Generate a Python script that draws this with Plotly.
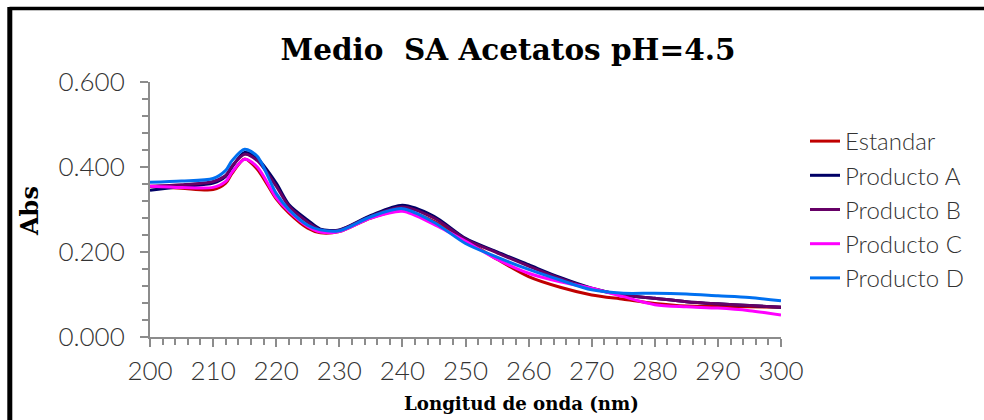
import plotly.graph_objects as go

wavelength = [200, 205, 210, 212, 213, 215, 217, 220, 222, 225, 227, 230, 235, 240, 245, 250, 255, 260, 265, 270, 275, 280, 285, 290, 295, 300]

estandar   = [0.354, 0.350, 0.347, 0.362, 0.385, 0.419, 0.395, 0.325, 0.292, 0.256, 0.245, 0.248, 0.280, 0.298, 0.272, 0.228, 0.183, 0.142, 0.117, 0.099, 0.089, 0.079, 0.073, 0.072, 0.071, 0.070]
producto_a = [0.345, 0.354, 0.362, 0.378, 0.400, 0.434, 0.420, 0.362, 0.312, 0.275, 0.254, 0.252, 0.286, 0.310, 0.284, 0.232, 0.200, 0.170, 0.140, 0.115, 0.099, 0.091, 0.083, 0.078, 0.074, 0.070]
producto_b = [0.355, 0.358, 0.366, 0.380, 0.402, 0.430, 0.415, 0.355, 0.308, 0.270, 0.252, 0.251, 0.284, 0.306, 0.280, 0.230, 0.198, 0.167, 0.138, 0.114, 0.099, 0.091, 0.083, 0.078, 0.074, 0.070]
producto_c = [0.355, 0.352, 0.352, 0.366, 0.388, 0.418, 0.400, 0.328, 0.296, 0.260, 0.247, 0.248, 0.280, 0.296, 0.265, 0.225, 0.183, 0.150, 0.130, 0.115, 0.095, 0.076, 0.071, 0.068, 0.062, 0.052]
producto_d = [0.364, 0.367, 0.373, 0.392, 0.415, 0.442, 0.425, 0.338, 0.300, 0.263, 0.252, 0.250, 0.283, 0.302, 0.270, 0.220, 0.188, 0.159, 0.134, 0.111, 0.103, 0.103, 0.101, 0.097, 0.093, 0.085]

series_names = ["Estandar", "Producto A", "Producto B", "Producto C", "Producto D"]
series_values = [estandar, producto_a, producto_b, producto_c, producto_d]
series_colors = ["#C00000", "#000066", "#660066", "#FF00FF", "#0070F0"]

x_ticks = [200, 210, 220, 230, 240, 250, 260, 270, 280, 290, 300]
y_ticks = [0.0, 0.2, 0.4, 0.6]
y_tick_text = ["0.000", "0.200", "0.400", "0.600"]

# plot-area geometry in pixels (used only to place texts / frame in paper coords)
L, R, T, B = 150, 781, 82, 337
PW, PH = R - L, B - T


def px_x(p):
    return (p - L) / PW


def px_y(p):
    return (B - p) / PH


fig = go.Figure()
for name, vals, col in zip(series_names, series_values, series_colors):
    fig.add_trace(go.Scatter(x=wavelength, y=vals, name=name, mode="lines",
                             line=dict(color=col, width=3, shape="spline", smoothing=0.8)))

tick_font = dict(family="Lato", size=26, color="#333333", weight=300)
axis_col = "#8C8C8C"
serif_bold = "DejaVu Serif"

fig.update_layout(
    width=984, height=420,
    margin=dict(l=L, r=984 - R, t=T, b=420 - B),
    paper_bgcolor="white", plot_bgcolor="white",
    title=dict(text="Medio\u00a0 SA Acetatos pH=4.5", x=508 / 984, xanchor="center", y=1 - 50 / 420, yanchor="middle",
               font=dict(family=serif_bold, size=29.5, color="black", weight="bold")),
    xaxis=dict(range=[200, 300], tickvals=x_ticks, ticks="outside", ticklen=8, tickwidth=2, tickcolor=axis_col,
               showline=True, linecolor=axis_col, linewidth=2, showgrid=False, zeroline=False,
               tickfont=tick_font, ticklabelstandoff=2,
               minor=dict(dtick=2, ticks="outside", ticklen=6, tickwidth=1.5, tickcolor=axis_col, showgrid=False)),
    yaxis=dict(range=[0, 0.6], tickvals=y_ticks, ticktext=y_tick_text, ticks="outside", ticklen=8, tickwidth=2,
               tickcolor=axis_col, showline=True, linecolor=axis_col, linewidth=2, showgrid=False, zeroline=False,
               tickfont=tick_font, ticklabelstandoff=10,
               minor=dict(dtick=0.04, ticks="outside", ticklen=6, tickwidth=1.5, tickcolor=axis_col, showgrid=False)),
    xaxis2=dict(range=[200, 300], overlaying="x", anchor="y", side="bottom", tickvals=x_ticks, ticks="inside",
                ticklen=8, tickwidth=2, tickcolor=axis_col, showticklabels=False, showline=False,
                showgrid=False, zeroline=False),
    yaxis2=dict(range=[0, 0.6], overlaying="y", anchor="x", side="left", tickvals=y_ticks, ticks="inside",
                ticklen=8, tickwidth=2, tickcolor=axis_col, showticklabels=False, showline=False,
                showgrid=False, zeroline=False),
    legend=dict(x=px_x(805), xanchor="left", y=px_y(119), yanchor="top",
                font=dict(family="Lato", size=24, color="#333333", weight=300),
                bgcolor="rgba(0,0,0,0)", tracegroupgap=0, itemwidth=30),
    showlegend=True,
)

# axis titles
fig.add_annotation(text="Longitud de onda (nm)", xref="paper", yref="paper", x=px_x(521), y=px_y(403),
                   xanchor="center", yanchor="middle", showarrow=False,
                   font=dict(family=serif_bold, size=18.2, color="black", weight="bold"))
fig.add_annotation(text="Abs", xref="paper", yref="paper", x=px_x(29), y=px_y(211), textangle=-90,
                   xanchor="center", yanchor="middle", showarrow=False,
                   font=dict(family=serif_bold, size=24, color="black", weight="bold"))

# frame border (top and left edges visible in the reference)
fig.add_shape(type="line", xref="paper", yref="paper", x0=px_x(9.5), x1=3, y0=px_y(8.5), y1=px_y(8.5),
              line=dict(color="black", width=3.5))
fig.add_shape(type="line", xref="paper", yref="paper", x0=px_x(9.8), x1=px_x(9.8), y0=-3, y1=px_y(7),
              line=dict(color="black", width=5))

fig.write_html("out.html")
